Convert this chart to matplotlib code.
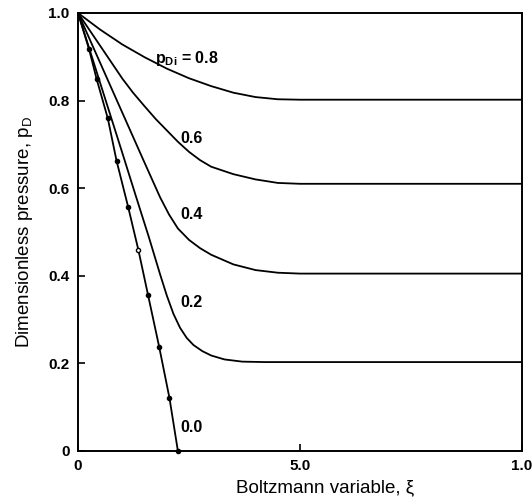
import matplotlib
matplotlib.use("Agg")
import matplotlib.pyplot as plt

plt.rcParams['font.family'] = ['Liberation Sans', 'DejaVu Sans']

# Curve data (xi, p_D)
xi_00 = [0.0, 0.25, 0.42, 0.67, 0.87, 1.13, 1.36, 1.58, 1.83, 2.06, 2.25]
pd_00 = [1.0, 0.917, 0.849, 0.760, 0.662, 0.557, 0.459, 0.355, 0.237, 0.121, 0.0]

# marker points on the 0.0 line
xi_dots = [0.25, 0.42, 0.67, 0.87, 1.13, 1.58, 1.83, 2.06, 2.25]
pd_dots = [0.917, 0.849, 0.760, 0.662, 0.557, 0.355, 0.237, 0.121, 0.0]
xi_open = [1.36]
pd_open = [0.459]

xi_02 = [0.0, 0.5, 1.0, 1.3, 1.6, 1.85, 2.0, 2.15, 2.3, 2.45, 2.6, 2.8, 3.0, 3.3, 3.7, 4.2, 10.0]
pd_02 = [1.0, 0.84, 0.68, 0.583, 0.487, 0.403, 0.355, 0.313, 0.281, 0.258, 0.242, 0.228, 0.218, 0.209, 0.204, 0.203, 0.203]

xi_04 = [0.0, 0.5, 1.0, 1.5, 1.85, 2.05, 2.25, 2.5, 2.75, 3.0, 3.5, 4.0, 4.5, 5.0, 10.0]
pd_04 = [1.0, 0.886, 0.772, 0.658, 0.579, 0.54, 0.508, 0.482, 0.463, 0.448, 0.426, 0.413, 0.407, 0.405, 0.405]

xi_06 = [0.0, 0.5, 1.0, 1.24, 1.5, 1.75, 2.0, 2.25, 2.5, 2.75, 3.0, 3.5, 4.0, 4.5, 5.0, 10.0]
pd_06 = [1.0, 0.925, 0.85, 0.818, 0.787, 0.758, 0.732, 0.706, 0.683, 0.664, 0.649, 0.632, 0.62, 0.612, 0.61, 0.61]

xi_08 = [0.0, 0.5, 1.0, 1.5, 2.0, 2.5, 3.0, 3.5, 4.0, 4.5, 5.0, 10.0]
pd_08 = [1.0, 0.962, 0.928, 0.899, 0.873, 0.851, 0.833, 0.818, 0.808, 0.803, 0.802, 0.802]

y_ticks = [0.0, 0.2, 0.4, 0.6, 0.8, 1.0]
y_ticklabels = ["0", "0.2", "0.4", "0.6", "0.8", "1.0"]
x_ticks = [0.0, 5.0, 10.0]
x_ticklabels = ["0", "5.0", "1.0"]

curve_labels = ["0.6", "0.4", "0.2", "0.0"]
label_pos = [(2.3, 0.714), (2.3, 0.541), (2.3, 0.34), (2.3, 0.054)]

fig = plt.figure(figsize=(5.32, 5.03), dpi=100)
ax = fig.add_axes([0.1466, 0.1034, 0.8346, 0.8708])

lw = 1.3
for xs, ys in [(xi_00, pd_00), (xi_02, pd_02), (xi_04, pd_04),
               (xi_06, pd_06), (xi_08, pd_08)]:
    ax.plot(xs, ys, color='black', lw=lw, solid_joinstyle='round')
ax.plot(xi_dots, pd_dots, 'o', color='black', ms=3.0, clip_on=False)
ax.plot(xi_open, pd_open, 'o', mfc='white', mec='black', mew=1.0, ms=3.0)

ax.set_xlim(0, 10)
ax.set_ylim(0, 1.0)
ax.set_xticks(x_ticks)
ax.set_xticklabels(x_ticklabels, fontsize=11, fontweight='bold')
ax.set_yticks(y_ticks)
ax.set_yticklabels(y_ticklabels, fontsize=11, fontweight='bold')
ax.tick_params(direction='in', length=5, width=1.2, pad=6)
for s in ax.spines.values():
    s.set_linewidth(1.4)

ax.set_xlabel("Boltzmann variable, ξ", fontsize=13.5, labelpad=7)
ax.xaxis.set_label_coords(0.556, -0.065, transform=ax.transAxes)
ax.set_ylabel("Dimensionless pressure, p$_\\mathregular{D}$", fontsize=13.5, labelpad=10)

ax.text(1.73, 0.895, "p$_\\mathregular{Di}$ = 0.8", fontsize=11.5, fontweight='bold', va='center', ha='left')
for t, (x, y) in zip(curve_labels, label_pos):
    ax.text(x, y, t, fontsize=11.5, fontweight='bold', va='center', ha='left')

fig.savefig("out.png", dpi=100)
